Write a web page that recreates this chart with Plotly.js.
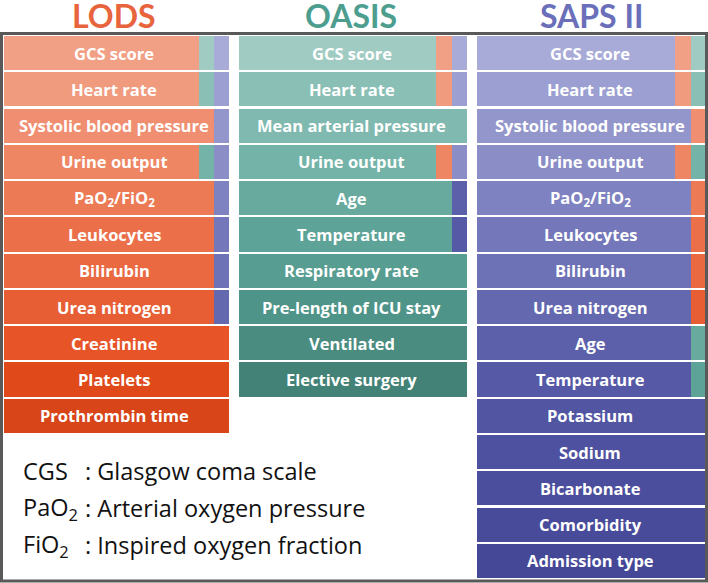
<!DOCTYPE html>
<html>
<head>
<meta charset="utf-8">
<script src="https://cdn.plot.ly/plotly-3.0.1.min.js"></script>
<style>html,body{margin:0;padding:0;background:#fff;}#chart{width:708px;height:583px;}</style>
</head>
<body>
<div id="chart"></div>
<script>
// ---- data ----
const scoreNames = ["LODS", "OASIS", "SAPS II"];
const titleColors = ["#E8643C", "#4E9E90", "#6B6FBA"];

const lodsLabels = ["GCS score","Heart rate","Systolic blood pressure","Urine output","PaO<sub>2</sub>/FiO<sub>2</sub>","Leukocytes","Bilirubin","Urea nitrogen","Creatinine","Platelets","Prothrombin time"];
const lodsColors = ["#F2A085","#F09A7E","#EF8E70","#EE8563","#EC7A55","#EB7049","#EA6940","#E85E34","#E65427","#E04A1A","#D84518"];

const oasisLabels = ["GCS score","Heart rate","Mean arterial pressure","Urine output","Age","Temperature","Respiratory rate","Pre-length of ICU stay","Ventilated","Elective surgery"];
const oasisColors = ["#9FCBC3","#8ABFB6","#7FB9AF","#74B3A8","#68AA9E","#5EA397","#579D91","#4F9488","#4A8C80","#438276"];

const sapsLabels = ["GCS score","Heart rate","Systolic blood pressure","Urine output","PaO<sub>2</sub>/FiO<sub>2</sub>","Leukocytes","Bilirubin","Urea nitrogen","Age","Temperature","Potassium","Sodium","Bicarbonate","Comorbidity","Admission type"];
const sapsColors = ["#A8ABD8","#9C9FD1","#9396CB","#8A8DC6","#7E82C0","#7478BA","#6D71B5","#6468AF","#5C60AA","#5659A5","#5255A2","#4E519F","#4B4E9D","#484B9A","#454897"];

const abbrevs = ["CGS", "PaO<sub>2</sub>", "FiO<sub>2</sub>"];
const meanings = [": Glasgow coma scale", ": Arterial oxygen pressure", ": Inspired oxygen fraction"];

// ---- build ----
const cols = [
  {labels: lodsLabels, colors: lodsColors},
  {labels: oasisLabels, colors: oasisColors},
  {labels: sapsLabels, colors: sapsColors}
];
const axNames = ["x", "x2", "x3"];
const domains = [[0, 0.3205], [0.3348, 0.6595], [0.6738, 1]];
const stripW = 0.067;

const traces = [];
const annotations = [];

cols.forEach((col, ci) => {
  const others = cols.filter((_, k) => k !== ci);
  const idx = col.labels.map((_, i) => i);
  const mainX = [], s1X = [], s1C = [], s2X = [], s2C = [];
  col.labels.forEach((lab, i) => {
    const matches = [];
    others.forEach(o => {
      const j = o.labels.indexOf(lab);
      if (j >= 0) matches.push(o.colors[j]);
    });
    const n = matches.length;
    mainX.push(1 - n * stripW);
    s1X.push(n === 2 ? stripW : 0);
    s1C.push(n === 2 ? matches[0] : "rgba(0,0,0,0)");
    s2X.push(n >= 1 ? stripW : 0);
    s2C.push(n >= 1 ? matches[n - 1] : "rgba(0,0,0,0)");
    annotations.push({
      xref: axNames[ci], yref: "y", x: ci === 0 ? 0.49 : 0.495, y: i,
      text: "<b>" + lab + "</b>", showarrow: false,
      font: {family: "Open Sans", size: 16.5, color: "#ffffff"},
      xanchor: "center", yanchor: "middle"
    });
  });
  const common = {type: "bar", orientation: "h", y: idx, xaxis: axNames[ci], yaxis: "y",
                  hoverinfo: "skip", showlegend: false};
  traces.push(Object.assign({}, common, {x: mainX, marker: {color: col.colors, line: {width: 0}}}));
  traces.push(Object.assign({}, common, {x: s1X, marker: {color: s1C, line: {width: 0}}}));
  traces.push(Object.assign({}, common, {x: s2X, marker: {color: s2C, line: {width: 0}}}));

  annotations.push({
    xref: axNames[ci], yref: "paper", x: ci === 2 ? 0.5 : 0.49, y: 1.036,
    text: "<b>" + scoreNames[ci] + "</b>", showarrow: false, borderpad: 0,
    font: {family: "Lato", size: 32, color: titleColors[ci]},
    xanchor: "center", yanchor: "middle"
  });
});

// glossary
const W = 702, H = 544, L = 4, T = 35;
const lineY = [471, 508, 545];
abbrevs.forEach((a, i) => {
  annotations.push({
    xref: "paper", yref: "paper", x: (21 - L) / W, y: (T + H - lineY[i]) / H,
    text: a, showarrow: false, xanchor: "left", yanchor: "middle",
    font: {family: "Open Sans", size: 23.5, color: "#111111"}
  });
  annotations.push({
    xref: "paper", yref: "paper", x: (83 - L) / W, y: (T + H - lineY[i]) / H,
    text: meanings[i], showarrow: false, xanchor: "left", yanchor: "middle",
    font: {family: "Open Sans", size: 23.5, color: "#111111"}
  });
});

const hiddenX = (d) => ({domain: d, range: [0, 1], visible: false, fixedrange: true});

const layout = {
  width: 708, height: 583,
  margin: {l: L, r: 2, t: T, b: 4},
  paper_bgcolor: "#ffffff", plot_bgcolor: "rgba(0,0,0,0)",
  barmode: "stack", bargap: 0.06,
  showlegend: false,
  xaxis: hiddenX(domains[0]),
  xaxis2: hiddenX(domains[1]),
  xaxis3: hiddenX(domains[2]),
  yaxis: {range: [14.5, -0.5], visible: false, fixedrange: true},
  annotations: annotations,
  shapes: [{
    type: "rect", xref: "paper", yref: "paper",
    x0: (1.5 - L) / W, x1: (706.5 - L) / W,
    y0: (T + H - 581) / H, y1: (T + H - 33.5) / H,
    line: {color: "#595959", width: 3}, fillcolor: "rgba(0,0,0,0)", layer: "above"
  }]
};

Plotly.newPlot("chart", traces, layout, {displayModeBar: false, staticPlot: true});
</script>
</body>
</html>
